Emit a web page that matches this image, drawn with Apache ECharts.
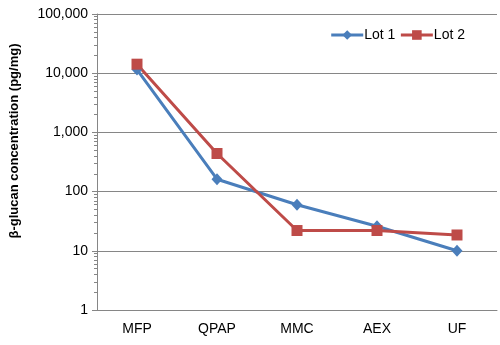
<!DOCTYPE html>
<html>
<head>
<meta charset="utf-8">
<script src="https://cdn.jsdelivr.net/npm/echarts@6/dist/echarts.min.js"></script>
<style>
html, body { margin: 0; padding: 0; background: #fff; }
#main { width: 500px; height: 345px; }
</style>
</head>
<body>
<div id="main"></div>
<script>
// 工艺步骤
var steps = ['MFP', 'QPAP', 'MMC', 'AEX', 'UF'];
// β-葡聚糖浓度 (pg/mg)
var lot1 = [11500, 162, 60, 26, 10];
var lot2 = [14200, 440, 22, 22, 18.5];

var blue = '#4a7ebb';
var red = '#be4b48';
var gray = '#868686';
var font = '"Liberation Sans", Arial, sans-serif';

var myChart = echarts.init(document.getElementById('main'));
var option = {
    animation: false,
    backgroundColor: '#fff',
    textStyle: {fontFamily: font},
    grid: {
        left: 95,
        right: 3,
        top: 14,
        bottom: 35
    },
    legend: {
        top: 23,
        right: 30,
        itemWidth: 32,
        itemHeight: 12,
        itemGap: 4,
        lineStyle: {width: 3},
        textStyle: {fontSize: 14, color: '#000', fontFamily: font, padding: [0, 0, 0, -4]},
        data: ['Lot 1', 'Lot 2']
    },
    xAxis: {
        type: 'category',
        data: steps,
        boundaryGap: true,
        axisLine: {lineStyle: {color: gray, width: 1}},
        axisTick: {show: false},
        axisLabel: {color: '#000', fontSize: 14, margin: 12, fontFamily: font},
        splitLine: {show: false}
    },
    yAxis: {
        type: 'log',
        logBase: 10,
        min: 1,
        max: 100000,
        name: 'β-glucan concentration (pg/mg)',
        nameLocation: 'middle',
        nameGap: 76,
        nameTextStyle: {fontSize: 13, fontWeight: 'bold', color: '#000', fontFamily: font, padding: [0, 0, 0, 42]},
        axisLine: {show: true, lineStyle: {color: gray, width: 1}},
        axisTick: {show: true, length: 5, lineStyle: {color: gray}},
        minorTick: {show: true, splitNumber: 9, length: 3, lineStyle: {color: gray}},
        axisLabel: {
            color: '#000',
            fontSize: 14,
            margin: 9,
            fontFamily: font,
            formatter: function (v) { return Math.round(v).toLocaleString('en-US'); }
        },
        splitLine: {show: true, lineStyle: {color: gray, width: 1}}
    },
    series: [
        {
            name: 'Lot 1',
            type: 'line',
            data: lot1,
            symbol: 'diamond',
            symbolSize: [11, 12],
            lineStyle: {color: blue, width: 3},
            itemStyle: {color: blue}
        },
        {
            name: 'Lot 2',
            type: 'line',
            data: lot2,
            symbol: 'rect',
            symbolSize: 11,
            lineStyle: {color: red, width: 3},
            itemStyle: {color: red}
        }
    ]
};
myChart.setOption(option);
</script>
</body>
</html>
